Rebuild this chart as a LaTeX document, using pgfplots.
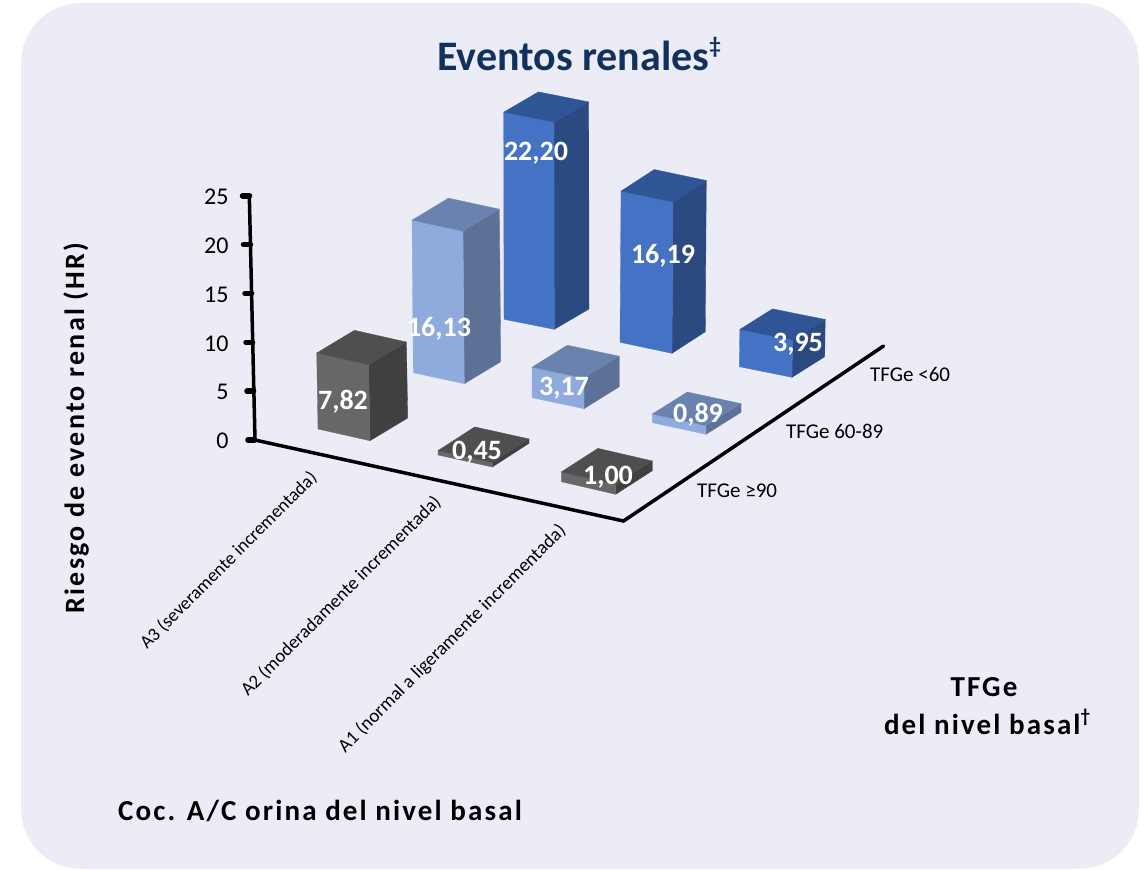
\documentclass[border=0pt]{standalone}
\usepackage{pgfplots}
\pgfplotsset{compat=1.18}
\usepackage{fontspec}
\setmainfont{Carlito}

\definecolor{panel}{HTML}{EBECF5}
\definecolor{navy}{HTML}{12305E}
\definecolor{grayF}{HTML}{676767}
\definecolor{grayT}{HTML}{4F4F4F}
\definecolor{grayS}{HTML}{404040}
\definecolor{paleF}{HTML}{8FAADC}
\definecolor{paleT}{HTML}{6A83AE}
\definecolor{paleS}{HTML}{5D7096}
\definecolor{blueF}{HTML}{4472C4}
\definecolor{blueT}{HTML}{2F5597}
\definecolor{blueS}{HTML}{2B4A80}

% Floor positions are given in layout units; heights are hazard ratios.
\newcommand{\FloorY}[1]{((440-(#1))/9.77)}

% Cuboid: left, front, right floor corners, HR value, depth factor, colour stem
\newcommand{\cuboid}[9]{%
  \pgfmathsetmacro\yL{\FloorY{#2}}%
  \pgfmathsetmacro\yF{\FloorY{#4}}%
  \pgfmathsetmacro\yR{\FloorY{#6}}%
  \pgfmathsetmacro\hh{#7*#8}%
  \pgfmathsetmacro\tL{\yL+\hh}%
  \pgfmathsetmacro\tF{\yF+\hh}%
  \pgfmathsetmacro\tR{\yR+\hh}%
  \pgfmathsetmacro\tB{\tL+\tR-\tF}%
  \pgfmathsetmacro\xLt{#1+\LeanVal}%
  \pgfmathsetmacro\xFt{#3+\LeanVal}%
  \pgfmathsetmacro\xRt{#5+\LeanVal}%
  \pgfmathsetmacro\xBt{#1+#5-#3+\LeanVal}%
  \addplot[draw=#9S, line width=.3pt, fill=#9S] coordinates {(#3,\yF) (#5,\yR) (\xRt,\tR) (\xFt,\tF)} --cycle;
  \addplot[draw=#9F, line width=.3pt, fill=#9F] coordinates {(#1,\yL) (#3,\yF) (\xFt,\tF) (\xLt,\tL)} --cycle;
  \addplot[draw=#9T, line width=.3pt, fill=#9T] coordinates {(\xLt,\tL) (\xFt,\tF) (\xRt,\tR) (\xBt,\tB)} --cycle;
}

\begin{document}
\begin{tikzpicture}
\begin{scope}
  \clip (0pt,0pt) rectangle (1147pt,-869pt);
  \fill[panel, rounded corners=60pt] (21pt,-3pt) rectangle (1139pt,-869pt);
\end{scope}
\path[use as bounding box] (0pt,0pt) rectangle (1147pt,-869pt);

\begin{axis}[
  at={(232pt,-869pt)}, anchor=south west,
  scale only axis, width=915pt, height=869pt,
  xmin=232, xmax=1147, ymin=-43.91, ymax=45.04,
  clip=false,
  hide x axis,
  axis y line=left,
  y axis line style={draw=none},
  major tick length=0pt,
  ytick={0,5,10,15,20,25},
  tick label style={font=\fontsize{24}{24}\selectfont, text=black},
  /pgf/number format/assume math mode=true,
  yticklabel style={xshift=0pt, yshift=-1pt},
]
% Axis spines and the tick marks on the HR scale
\addplot[black, line width=3.5pt, line cap=round] coordinates {(249.3,25.04) (255,0) (623.5,-8.29) (883.5,9.62)};
\addplot[black, line width=5.5pt, line cap=round] coordinates {(242.5,25) (249.5,25)};
\addplot[black, line width=5.5pt, line cap=round] coordinates {(243.5,20) (250.5,20)};
\addplot[black, line width=5.5pt, line cap=round] coordinates {(245,15) (251.5,15)};
\addplot[black, line width=5.5pt, line cap=round] coordinates {(246,10) (252.5,10)};
\addplot[black, line width=5.5pt, line cap=round] coordinates {(247,5) (253.5,5)};
\addplot[black, line width=5.5pt, line cap=round] coordinates {(248,0) (254.5,0)};

% Far row: TFGe <60
\def\LeanVal{-0.3}\cuboid{504}{319.3}{554.3}{329.3}{589}{309}{22.20}{0.955}{blue}
\def\LeanVal{1}\cuboid{620}{342.3}{672}{353.3}{705.3}{331.7}{16.19}{0.956}{blue}
\def\LeanVal{0.5}\cuboid{739.3}{366.7}{792}{377.3}{824.7}{356.7}{3.95}{0.965}{blue}
% Middle row: TFGe 60-89
\def\LeanVal{-1.3}\cuboid{413.3}{372.7}{464.3}{383.7}{500.7}{361.7}{16.13}{0.968}{pale}
\def\LeanVal{0}\cuboid{532}{397.7}{584}{408.7}{619.3}{386.7}{3.17}{0.985}{pale}
\def\LeanVal{0}\cuboid{652.3}{422.7}{706}{434.3}{741}{412.3}{0.89}{1}{pale}
% Near row: TFGe >=90
\def\LeanVal{-1.3}\cuboid{318}{429}{370}{440.7}{407.7}{418}{7.82}{0.995}{gray}
\def\LeanVal{0}\cuboid{438}{455}{492.3}{467}{529}{443.3}{0.45}{1}{gray}
\def\LeanVal{0}\cuboid{561.3}{481.7}{615.7}{494.3}{652.3}{470.7}{1.00}{1}{gray}
\end{axis}

\begin{scope}[x=1pt, y=-1pt]
  % Value labels
  \begin{scope}[every node/.style={text=white, font=\fontsize{28}{28}\selectfont\bfseries, inner sep=0pt}]
    \node at (536,153.5) {22,20};
    \node at (663,256) {16,19};
    \node at (798,344) {3,95};
    \node at (439,328.5) {16,13};
    \node at (564,388.5) {3,17};
    \node at (698,415) {0,89};
    \node at (343,402) {7,82};
    \node at (477,452.5) {0,45};
    \node at (608,477) {1,00};
  \end{scope}
  % Title and axis names
  \node[text=navy, font=\fontsize{42}{42}\selectfont\bfseries, inner sep=0pt] at (579,54) {Eventos renales\raisebox{.42em}{\fontsize{23}{23}\selectfont ‡}};
  \node[rotate=90, font=\fontsize{28}{28}\selectfont\bfseries\addfontfeatures{LetterSpace=8}, inner sep=0pt] at (76,428) {Riesgo de evento renal (HR)};
  \node[font=\fontsize{29}{29}\selectfont\bfseries\addfontfeatures{LetterSpace=7.3}, inner sep=0pt, anchor=west] at (118,811) {Coc. A/C orina del nivel basal};
  \node[font=\fontsize{29}{29}\selectfont\bfseries\addfontfeatures{LetterSpace=7.3}, inner sep=0pt] at (984,687) {TFGe};
  \node[font=\fontsize{29}{29}\selectfont\bfseries\addfontfeatures{LetterSpace=7.3}, inner sep=0pt] at (987,722) {del nivel basal\raisebox{.42em}{\fontsize{19}{19}\selectfont †}};
  % Category names along the floor
  \begin{scope}[every node/.style={font=\fontsize{21}{21}\selectfont, inner sep=0pt}]
    \node[anchor=west] at (870,374) {TFGe <60};
    \node[anchor=west] at (786,431) {TFGe 60-89};
    \node[anchor=west] at (697,491) {TFGe ≥90};
  \end{scope}
  \node[font=\fontsize{18.5}{18.5}\selectfont, inner sep=0pt, rotate=45, anchor=east] at (314,475) {A3 (severamente incrementada)};
  \node[font=\fontsize{18.8}{18.8}\selectfont, inner sep=0pt, rotate=45, anchor=east] at (438,499) {A2 (moderadamente incrementada)};
  \node[font=\fontsize{19}{19}\selectfont, inner sep=0pt, rotate=45, anchor=east] at (563,528) {A1 (normal a ligeramente incrementada)};
\end{scope}
\end{tikzpicture}
\end{document}
